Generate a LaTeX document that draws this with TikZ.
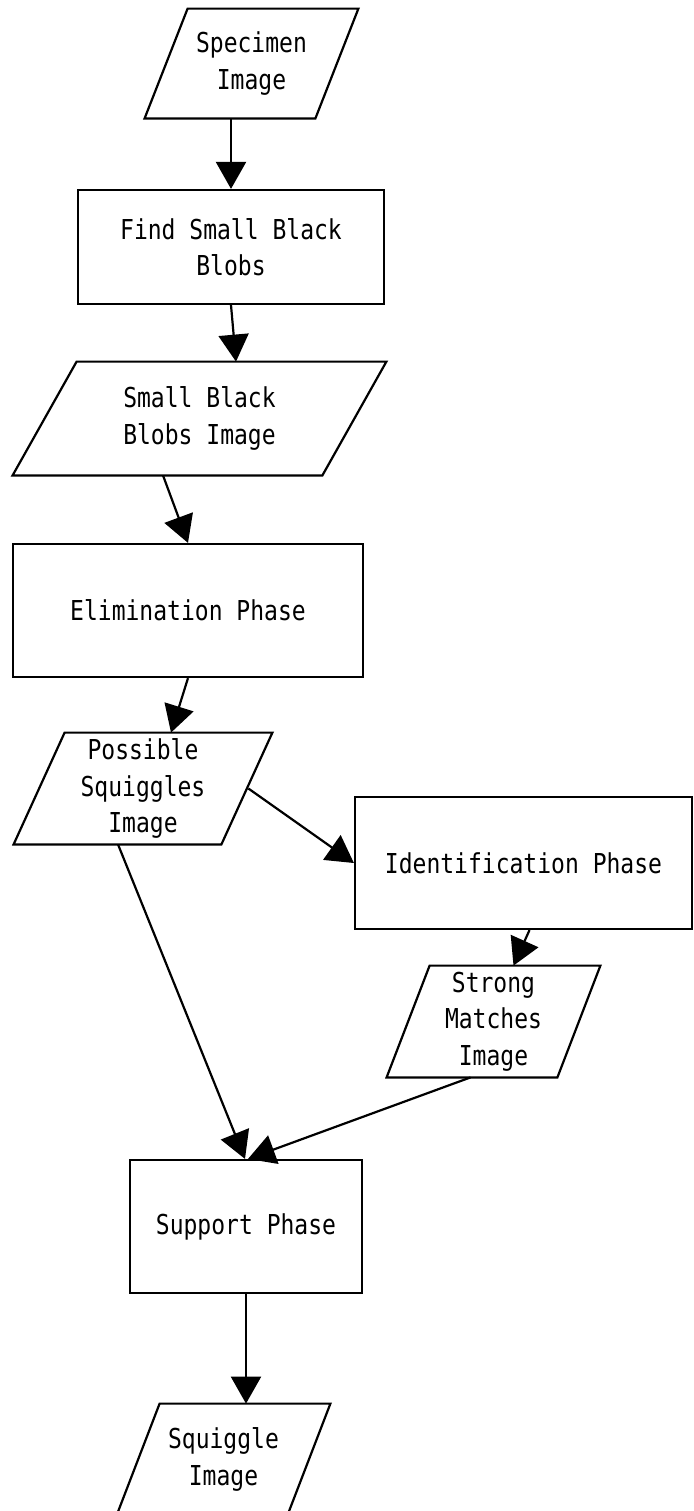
\documentclass[tikz,border=0pt]{standalone}
\usepackage{fontspec}
\setmonofont[FakeStretch=0.84]{DejaVu Sans Mono}
\usetikzlibrary{arrows.meta,calc}

% slanted outline round a data node: #1 node, #2 slant in px
\newcommand{\slantbox}[2]{%
  \draw[line width=1.1pt,line join=miter]
    ($(#1.north west)+(#2,0)$) -- (#1.north east)
    -- ($(#1.south east)+(-#2,0)$) -- (#1.south west) -- cycle;}

\begin{document}
\begin{tikzpicture}[x=0.5pt,y=-0.5pt,
  base/.style={align=center,inner sep=0pt,
               font=\ttfamily\fontsize{13.7}{18.25}\selectfont},
  proc/.style={base,draw=black,line width=1.1pt,rectangle},
  data/.style={base,rectangle},
  flow/.style={line width=1.1pt,-{Triangle[length=13.5pt,width=15pt]}},
]
  \useasboundingbox (0,0) rectangle (693,1511);

  \node[data,minimum width=106.5pt,minimum height=54.5pt] (spec) at (251.5,63.5)
    {Specimen\\Image};
  \node[proc,minimum width=153pt,minimum height=57pt] (find) at (231,247)
    {Find Small Black\\Blobs};
  \node[data,minimum width=186.5pt,minimum height=56.5pt] (blobs) at (199.5,418.5)
    {Small Black\\Blobs Image};
  \node[proc,minimum width=175pt,minimum height=66.5pt] (elim) at (188,610.5)
    {Elimination Phase};
  \node[data,minimum width=129pt,minimum height=55.5pt] (poss) at (143,788.5)
    {Possible\\Squiggles\\Image};
  \node[proc,minimum width=168.5pt,minimum height=66pt] (ident) at (523.5,863)
    {Identification Phase};
  \node[data,minimum width=106.5pt,minimum height=55.5pt] (strong) at (493.5,1021.5)
    {Strong\\Matches\\Image};
  \node[proc,minimum width=116pt,minimum height=66.5pt] (support) at (246,1226.5)
    {Support Phase};
  \node[data,minimum width=106.5pt,minimum height=55.5pt] (squig) at (223.5,1459.5)
    {Squiggle\\Image};

  \slantbox{spec}{43}
  \slantbox{blobs}{64}
  \slantbox{poss}{51}
  \slantbox{strong}{43}
  \slantbox{squig}{43}

  % edges
  \draw[flow] (spec.south -| find) -- (find);
  \draw[flow] (find.south) -- ($(find.south |- blobs.north)+(5,0)$);
  \draw[flow] ($(blobs.south -| elim)+(-25,0)$) -- (elim.north);
  \draw[flow] (elim.south) -- ($(elim.south |- poss.north)+(-17,0)$);
  \draw[flow] ($(poss.east)+(-24,0)$) -- (ident.west);
  \draw[flow] ($(ident.south)+(6,0)$) -- ($(ident.south |- strong.north)+(-10,0)$);
  \draw[flow] ($(poss.south)+(-25,0)$) -- ($(support.north)+(-1,0)$);
  \draw[flow] ($(strong.south)+(-23,0)$) -- ($(support.north)+(2,0)$);
  \draw[flow] (support) -- (support |- squig.north);
\end{tikzpicture}
\end{document}
